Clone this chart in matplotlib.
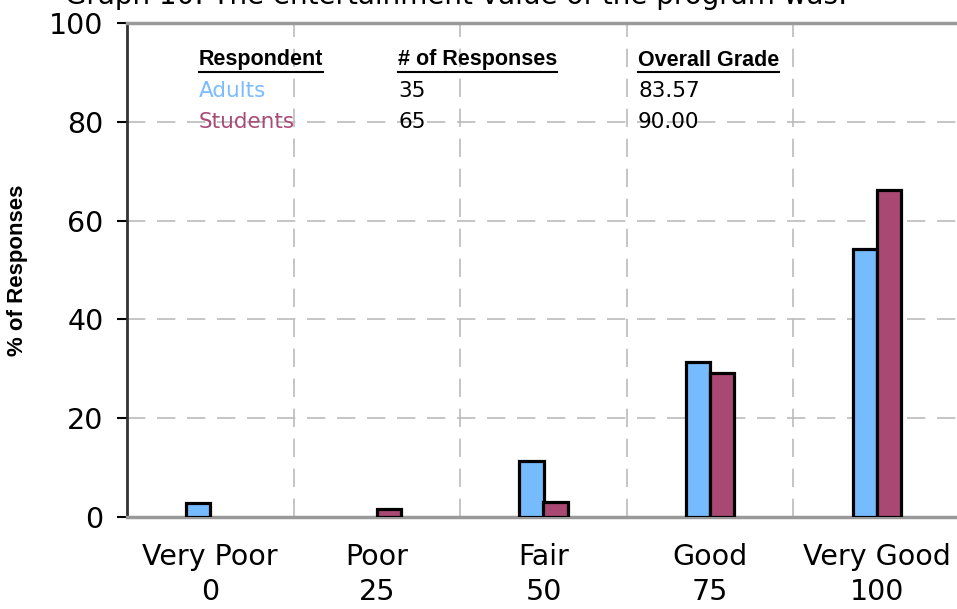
import numpy as np
import matplotlib
matplotlib.use("Agg")
import matplotlib.pyplot as plt
from matplotlib.lines import Line2D

categories = ["Very Poor\n0", "Poor\n25", "Fair\n50", "Good\n75", "Very Good\n100"]
adults = [2.86, 0.0, 11.43, 31.43, 54.29]
students = [0.0, 1.54, 3.08, 29.23, 66.15]
yticks = [0, 20, 40, 60, 80, 100]

table_header = ["Respondent", "# of Responses", "Overall Grade"]
table_rows = [["Adults", "35", "83.57"], ["Students", "65", "90.00"]]

c_adult = "#77BBFF"
c_student = "#AA4874"
text_colors = ["#7BBBFF", "#A84B78"]

plt.rcParams["font.family"] = ["DejaVu Sans"]

fig = plt.figure(figsize=(9.57, 6.09), dpi=100)
ax = fig.add_axes([127 / 957, 1 - 517 / 609, 833 / 957, 494 / 609])

x = np.arange(len(categories))
w = 0.145
# zero-height bars are not drawn in the original
a = np.array(adults)
s = np.array(students)
ax.bar(x[a > 0] - w / 2, a[a > 0], w, color=c_adult, edgecolor="black", linewidth=2.3, zorder=3)
ax.bar(x[s > 0] + w / 2, s[s > 0], w, color=c_student, edgecolor="black", linewidth=2.3, zorder=3)

ax.set_xlim(-0.5, 4.5)
ax.set_ylim(0, 100)
ax.set_yticks(yticks)
ax.set_xticks(x)
ax.set_xticklabels(categories, fontsize=20.5, linespacing=1.28)
ax.tick_params(axis="x", length=0, pad=19)
ax.tick_params(axis="y", labelsize=20.5, length=7, width=1.5, direction="out", pad=10)
ax.set_xticks(np.arange(0.5, 4.5, 1), minor=True)
ax.tick_params(axis="x", which="minor", length=0)

ax.grid(axis="y", which="major", color="#BBBBBB", linestyle=(0, (11, 7)), linewidth=1.2, zorder=0)
ax.grid(axis="x", which="minor", color="#BBBBBB", linestyle=(0, (11, 7)), linewidth=1.2, zorder=0)

ax.spines["left"].set_color("#333333")
ax.spines["left"].set_linewidth(2)
ax.spines["bottom"].set_color("#999999")
ax.spines["bottom"].set_linewidth(2.5)
ax.spines["top"].set_color("#999999")
ax.spines["top"].set_linewidth(2.5)
ax.spines["right"].set_visible(False)

fig.text(18 / 957, 1 - 270 / 609, "% of Responses", fontsize=16, fontweight="bold",
         family="Liberation Sans", rotation=90, va="center", ha="center")

fig.text(65 / 957, 1 - 4 / 609, "Graph 10: The entertainment value of the program was:",
         fontsize=20, va="baseline", ha="left")

# table of respondents inside the plot
col_x = [199 / 957, 398 / 957, 638 / 957]
row_y = [1 - 60 / 609, 1 - 91 / 609, 1 - 122 / 609]
headers = []
for cx, h in zip(col_x, table_header):
    t = fig.text(cx, row_y[0], h, fontsize=15.5, fontweight="bold",
                 family="Liberation Sans", va="center", ha="left")
    headers.append(t)
for r, row in enumerate(table_rows):
    for c, (cx, val) in enumerate(zip(col_x, row)):
        col = text_colors[r] if c == 0 else "black"
        fig.text(cx, row_y[r + 1], val, fontsize=15.5, color=col, va="center", ha="left")

fig.canvas.draw()
renderer = fig.canvas.get_renderer()
for t in headers:
    bb = t.get_window_extent(renderer)
    yy = (bb.y0 - 1) / fig.bbox.height
    fig.add_artist(Line2D([bb.x0 / fig.bbox.width, bb.x1 / fig.bbox.width], [yy, yy],
                          color="black", linewidth=1.5, transform=fig.transFigure))

fig.savefig("out.png", dpi=100)
